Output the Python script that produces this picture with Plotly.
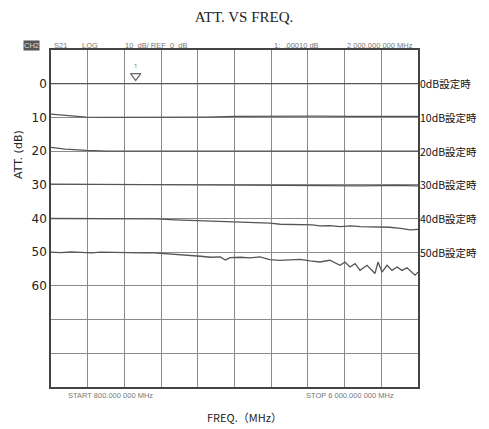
import plotly.graph_objects as go

# ---- data ----
freq_0 = [800, 6000]
att_0 = [0.0, 0.0]

freq_10 = [800, 1000, 1300, 1600, 2000, 2500, 3000, 3400, 3800, 4200, 4600, 5000, 5400, 5800, 6000]
att_10 = [9.0, 9.4, 9.9, 10.0, 10.0, 10.0, 9.9, 9.7, 9.6, 9.5, 9.6, 9.7, 9.7, 9.7, 9.7]

freq_20 = [800, 1000, 1300, 1600, 2000, 3000, 4000, 5000, 6000]
att_20 = [18.9, 19.4, 19.8, 20.0, 20.0, 20.0, 20.0, 20.0, 20.0]

freq_30 = [800, 1300, 2000, 2800, 3500, 4200, 4700, 5200, 5700, 6000]
att_30 = [29.8, 29.9, 30.0, 30.0, 30.1, 30.2, 30.3, 30.3, 30.2, 30.3]

freq_40 = [800, 1500, 2300, 2560, 2900, 3200, 3400, 3600, 3760, 3900, 4050, 4200,
           4330, 4500, 4610, 4750, 4900, 5050, 5180, 5320, 5460, 5600, 5750, 5890, 6000]
att_40 = [40.0, 40.0, 40.1, 40.4, 40.6, 40.8, 40.9, 41.1, 41.3, 41.4, 41.7, 41.8,
          42.0, 41.9, 42.2, 42.1, 42.4, 42.2, 42.4, 42.5, 42.4, 42.6, 42.9, 43.4, 43.2]

freq_50 = [800, 940, 1080, 1230, 1370, 1510, 1650, 1800, 1940, 2080, 2220, 2360, 2500,
           2640, 2780, 2920, 3060, 3200, 3270, 3340, 3480, 3620, 3760, 3900, 4040, 4180,
           4330, 4470, 4610, 4750, 4895, 4966, 5037, 5108, 5179, 5278, 5391, 5434, 5490,
           5561, 5632, 5703, 5774, 5845, 5915, 5958, 6000]
att_50 = [50.0, 50.1, 49.9, 50.0, 50.2, 50.0, 50.1, 50.0, 50.1, 50.2, 50.1, 50.3, 50.4,
          50.6, 50.9, 51.2, 51.5, 51.4, 52.3, 51.6, 51.5, 51.7, 51.4, 52.2, 52.4, 52.3,
          52.1, 52.6, 52.9, 52.4, 53.9, 52.9, 54.4, 53.4, 55.4, 53.9, 56.3, 52.9, 55.9,
          53.9, 55.4, 54.4, 55.4, 54.6, 55.9, 56.8, 55.9]

series = [(freq_0, att_0), (freq_10, att_10), (freq_20, att_20),
          (freq_30, att_30), (freq_40, att_40), (freq_50, att_50)]
right_labels = ["0dB設定時", "10dB設定時", "20dB設定時", "30dB設定時", "40dB設定時", "50dB設定時"]
label_levels = [0, 10, 20, 30, 40, 50]

y_tickvals = [-10, 0, 10, 20, 30, 40, 50, 60, 70, 80, 90]
y_ticktext = ["", "0", "10", "20", "30", "40", "50", "60", "", "", ""]

marker_freq = [2000]
marker_att = [-2.3]

# page body has an 8px margin; the figure is sized/offset to compensate
OFF = 8
W, H = 489 - OFF, 429 - OFF
L, R, T, B = 51 - OFF, 71, 50 - OFF, 42
PW, PH = 367, 337


def px(xp):
    return (xp - 51) / PW


def py(yp):
    return (387 - yp) / PH


fig = go.Figure()
for fx, fy in series:
    fig.add_trace(go.Scatter(x=fx, y=fy, mode="lines",
                             line=dict(color="#555555", width=1.3),
                             showlegend=False, hoverinfo="skip"))

fig.add_trace(go.Scatter(x=marker_freq, y=marker_att, mode="markers+text",
                         marker=dict(symbol="triangle-down-open", size=9,
                                     color="#666666", line=dict(width=1.2, color="#666666")),
                         text=["1"], textposition="top center",
                         textfont=dict(size=6, color="#666666"),
                         showlegend=False, hoverinfo="skip"))

for lab, lev in zip(right_labels, label_levels):
    fig.add_annotation(x=1.0, xref="paper", y=lev, yref="y", text=lab,
                       showarrow=False, xanchor="left", xshift=0,
                       font=dict(family="Noto Sans CJK JP", size=10.5, color="#111111"))

small = dict(family="Liberation Sans", size=7.5, color="#777777")
top_texts = [("S21", 52), ("LOG", 80), ("10  dB/ REF  0  dB", 123),
             ("1:  .00010 dB", 272), ("2 000.000 000 MHz", 345)]
for t, xp in top_texts:
    fig.add_annotation(x=px(xp), xref="paper", y=py(45), yref="paper",
                       text=t, showarrow=False, xanchor="left", yanchor="middle", font=small)
fig.add_annotation(x=px(23), xref="paper", y=py(45), yref="paper",
                   text="CH2", showarrow=False, xanchor="left", yanchor="middle",
                   font=dict(family="Liberation Sans", size=7.5, color="#dddddd"),
                   bgcolor="#555555", borderpad=0)
for t, xp in [("START 800.000 000 MHz", 66), ("STOP 6 000.000 000 MHz", 304)]:
    fig.add_annotation(x=px(xp), xref="paper", y=py(395), yref="paper",
                       text=t, showarrow=False, xanchor="left", yanchor="middle", font=small)

fig.add_annotation(x=px(244), xref="paper", y=py(417), yref="paper",
                   text="FREQ.（MHz）", showarrow=False, xanchor="center", yanchor="middle",
                   font=dict(family="Noto Sans CJK JP", size=11, color="#222222"))
fig.add_annotation(x=px(18), xref="paper", y=py(155), yref="paper",
                   text="ATT. (dB)", textangle=-90, showarrow=False,
                   xanchor="center", yanchor="middle",
                   font=dict(family="DejaVu Sans", size=11, color="#222222"))

fig.update_layout(
    width=W, height=H,
    margin=dict(l=L, r=R, t=T, b=B),
    paper_bgcolor="white", plot_bgcolor="white",
    title=dict(text="ATT. VS FREQ.", x=px(244), xref="paper", xanchor="center",
               y=1 - (17 - OFF) / H, yanchor="middle",
               font=dict(family="Liberation Serif", size=15, color="#222222")),
    xaxis=dict(range=[800, 6000], dtick=520, tick0=800, showticklabels=False,
               showgrid=True, gridcolor="#8a8a8a", gridwidth=1.2, zeroline=False,
               showline=True, linecolor="#444444", linewidth=1.5, mirror=True, ticks=""),
    yaxis=dict(range=[90, -10], tickvals=y_tickvals, ticktext=y_ticktext,
               showgrid=True, gridcolor="#8a8a8a", gridwidth=1.2, zeroline=False,
               showline=True, linecolor="#444444", linewidth=1.5, mirror=True,
               ticks="", tickfont=dict(family="DejaVu Sans", size=12, color="#222222")),
)

fig.write_html("out.html")
